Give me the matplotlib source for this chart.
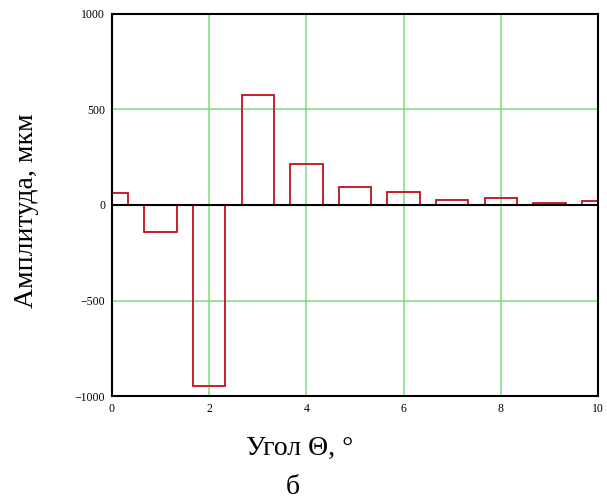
import numpy as np
import matplotlib.pyplot as plt

# данные спектра
theta = [0, 1, 2, 3, 4, 5, 6, 7, 8, 9, 10]
amp = [64, -141, -948, 576, 216, 94, 66, 26, 35, 9, 23]
xticks = [0, 2, 4, 6, 8, 10]
yticks = [-1000, -500, 0, 500, 1000]

plt.rcParams['font.family'] = ['Liberation Serif', 'DejaVu Serif']

fig = plt.figure(figsize=(6.07, 5.03), dpi=100)
ax = fig.add_axes([0.1845, 0.2127, 0.8007, 0.7595])

# сетка
for x in xticks[1:-1]:
    ax.axvline(x, color='#7ddc7d', lw=1.1, zorder=0)
for y in [-500, 500]:
    ax.axhline(y, color='#7ddc7d', lw=1.1, zorder=0)
ax.axhline(0, color='black', lw=1.5, zorder=3)

ax.bar(theta, amp, width=0.67, fill=False, edgecolor='#c01018', lw=1.3, zorder=2)

ax.set_xlim(0, 10)
ax.set_ylim(-1000, 1000)
ax.set_xticks(xticks)
ax.set_yticks(yticks)
ax.set_yticklabels(['\u22121000', '\u2212500', '0', '500', '1000'])
ax.tick_params(length=0, labelsize=8.5, pad=5)
for s in ax.spines.values():
    s.set_linewidth(1.5)

fig.text(0.043, 0.582, 'Амплитуда, мкм', rotation=90, ha='center', va='center', fontsize=20)
fig.text(0.493, 0.0954, 'Угол Θ, °', ha='center', va='baseline', fontsize=20)
fig.text(0.483, 0.006, 'б', ha='center', va='bottom', fontsize=20)

fig.savefig('out.png', dpi=100)
